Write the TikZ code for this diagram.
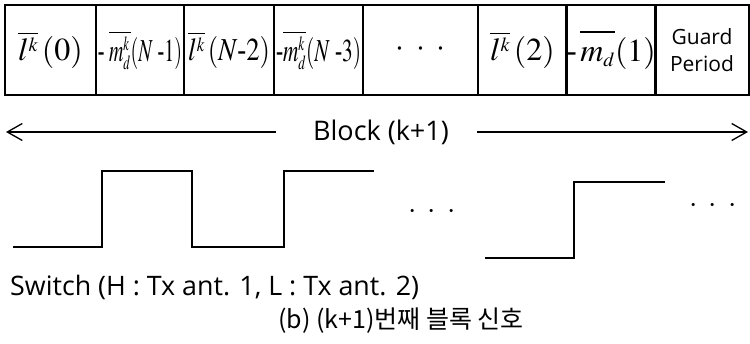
\documentclass[tikz,border=0pt]{standalone}
\usepackage{mathptmx}
\usepackage[no-math]{fontspec}
\setmainfont{Liberation Serif}
\setsansfont{Open Sans}
\newfontfamily\krfont{Noto Sans CJK KR}
\usepackage{graphicx}
\usetikzlibrary{arrows.meta}
\DeclareMathSizes{32}{32}{20}{15}
\newcommand\sqz[2]{\resizebox{#1pt}{\height}{#2}}
\begin{document}
\begin{tikzpicture}[x=1pt,y=-1pt,
  cell/.style={draw,line width=1.4pt,minimum height=90pt,inner sep=0pt,
    font=\fontsize{32}{36}\selectfont},
  lbl/.style={inner sep=0pt,font=\sffamily\fontsize{27}{30}\selectfont},
  dotrow/.style={inner sep=0pt,font=\fontsize{30}{30}\selectfont},
  wire/.style={line width=1.3pt},
  arr/.style={line width=1.3pt,-{Straight Barb[length=15pt,width=17pt,line width=1.3pt]}}]
\useasboundingbox (0,0) rectangle (750,343);
% table cells
\node[cell,minimum width=91pt] (c1) at (50.5,50) {$\overline{l^k}\,(0)$};
\node[cell,minimum width=88pt] (c2) at (140,50) {\sqz{84}{$\mbox{-}\;\overline{m^k_d}(N\mbox{ -}1)$}};
\node[cell,minimum width=90pt] (c3) at (229,50) {\sqz{82}{$\overline{l^k}\,(N\mbox{-}2)$}};
\node[cell,minimum width=89pt] (c4) at (318.5,50) {\sqz{85}{$\mbox{-}\overline{m^k_d}(N\mbox{ -}3)$}};
\node[cell,minimum width=115pt] (c5) at (420.5,50) {${\cdot}\hspace{12pt}{\cdot}\hspace{12pt}{\cdot}$};
\node[cell,minimum width=89pt] (c6) at (522.5,50) {$\overline{l^k}\,(2)$};
\node[cell,minimum width=88pt] (c7) at (611,50) {$\mbox{-}\,\overline{m_d\vphantom{m^k_d}}(1)$};
\node[cell,minimum width=94pt,align=center,font=\sffamily\fontsize{21}{27}\selectfont] (c8) at (702,50) {Guard\\Period};
% block arrow
\node[lbl] (blk) at (381,132) {Block (k+1)};
\coordinate (al) at (276,132);
\coordinate (alt) at (6,132);
\coordinate (ar) at (477,132);
\coordinate (art) at (748,132);
\draw[arr] (al) -- (alt);
\draw[arr] (ar) -- (art);
% switch waveform
\draw[wire] (13,247) -- (102,247) -- (102,171) -- (192,171) -- (192,247) -- (284,247) -- (284,171) -- (374,171);
\draw[wire] (485,258) -- (574,258) -- (574,182) -- (665,182);
\node[dotrow] (d1) at (432,212) {${\cdot}\hspace{11pt}{\cdot}\hspace{11pt}{\cdot}$};
\node[dotrow] (d2) at (713,206) {${\cdot}\hspace{11pt}{\cdot}\hspace{11pt}{\cdot}$};
% labels
\node[lbl,anchor=west,font=\sffamily\fontsize{26.8}{30}\selectfont] (sw) at (10,287) {Switch (H : Tx ant. 1, L : Tx ant. 2)};
\node[inner sep=0pt,font=\krfont\fontsize{25}{28}\selectfont] (cap) at (401,321) {(b) (k+1)번째 블록 신호};
\end{tikzpicture}
\end{document}
